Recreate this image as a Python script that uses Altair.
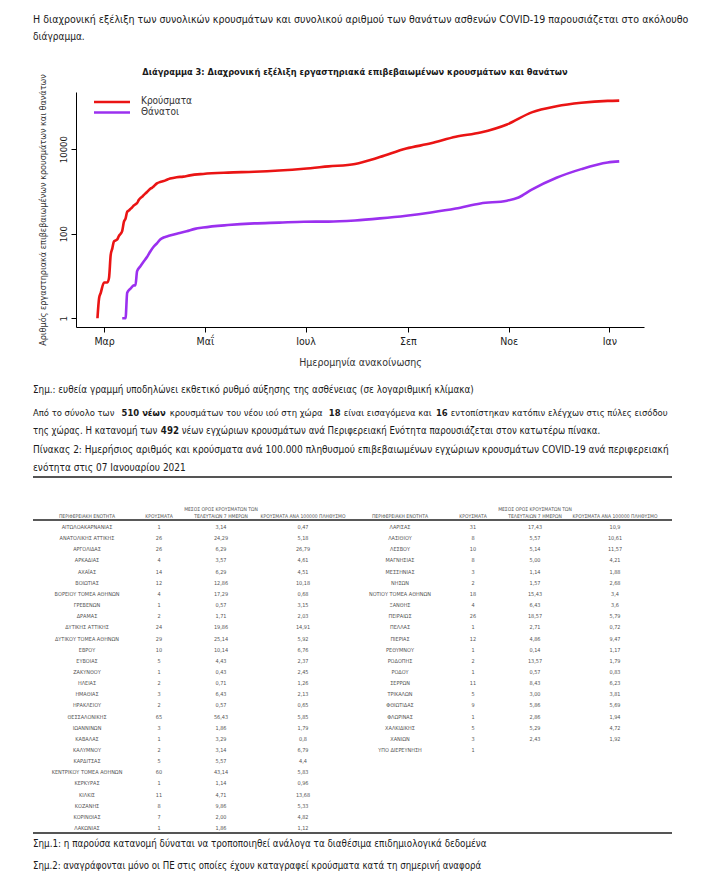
import altair as alt
import pandas as pd

FONT = "Liberation Sans Narrow, DejaVu Sans Condensed, Arial Narrow, sans-serif"
RED = "#ea1414"
PURPLE = "#9b30ef"
INK = "#1a1a1a"

# ---------------- chart data ----------------
case_dates = ["2020-02-26", "2020-02-27", "2020-02-28", "2020-03-01", "2020-03-03", "2020-03-04",
              "2020-03-05", "2020-03-06", "2020-03-07", "2020-03-09", "2020-03-10", "2020-03-11",
              "2020-03-12", "2020-03-13", "2020-03-14", "2020-03-15", "2020-03-16", "2020-03-17",
              "2020-03-18", "2020-03-19", "2020-03-20", "2020-03-21", "2020-03-22", "2020-03-23",
              "2020-03-24", "2020-03-25", "2020-03-26", "2020-03-27", "2020-03-28", "2020-03-29",
              "2020-03-30", "2020-03-31", "2020-04-02", "2020-04-04", "2020-04-06", "2020-04-08",
              "2020-04-10", "2020-04-14", "2020-04-18", "2020-04-22", "2020-04-30", "2020-05-15",
              "2020-05-31", "2020-06-15", "2020-06-30", "2020-07-15", "2020-07-31", "2020-08-15",
              "2020-08-31", "2020-09-15", "2020-09-30", "2020-10-15", "2020-10-31", "2020-11-15",
              "2020-11-30", "2020-12-15", "2020-12-31", "2021-01-07"]
case_values = [1, 3, 4, 7, 7, 9, 31, 45, 66, 73, 89, 99, 117, 190, 228, 331, 352, 387, 418, 464,
               495, 530, 624, 695, 743, 821, 892, 966, 1061, 1156, 1212, 1314, 1544, 1673, 1755,
               1884, 2011, 2170, 2235, 2401, 2591, 2788, 2917, 3121, 3432, 3910, 4477, 6481, 10317,
               13730, 19613, 24742, 38410, 74205, 103034, 124728, 138850, 141000]

death_dates = ["2020-03-12", "2020-03-14", "2020-03-15", "2020-03-17", "2020-03-19", "2020-03-20",
               "2020-03-21", "2020-03-23", "2020-03-25", "2020-03-27", "2020-03-29", "2020-03-31",
               "2020-04-02", "2020-04-04", "2020-04-06", "2020-04-08", "2020-04-11", "2020-04-15",
               "2020-04-20", "2020-04-25", "2020-04-30", "2020-05-15", "2020-05-31", "2020-06-15",
               "2020-06-30", "2020-07-15", "2020-07-31", "2020-08-15", "2020-08-31", "2020-09-15",
               "2020-09-30", "2020-10-15", "2020-10-31", "2020-11-07", "2020-11-15", "2020-11-30",
               "2020-12-15", "2020-12-31", "2021-01-07"]
death_values = [1, 1, 4, 5, 6, 6, 13, 17, 22, 28, 38, 49, 59, 73, 81, 86, 93, 102, 114, 130, 140,
                160, 175, 183, 192, 193, 206, 230, 266, 317, 393, 520, 603, 720, 1100, 2102, 3370,
                4838, 5146]

series_names = ["Κρούσματα", "Θάνατοι"]
month_labels = ["Ιαν", "Φεβ", "Μαρ", "Απρ", "Μαΐ", "Ιουν", "Ιουλ", "Αυγ", "Σεπ", "Οκτ", "Νοε", "Δεκ"]
y_ticks = [1, 100, 10000]

# ---------------- table data ----------------
left_names = ["ΑΙΤΩΛΟΑΚΑΡΝΑΝΙΑΣ", "ΑΝΑΤΟΛΙΚΗΣ ΑΤΤΙΚΗΣ", "ΑΡΓΟΛΙΔΑΣ", "ΑΡΚΑΔΙΑΣ", "ΑΧΑΪΑΣ", "ΒΟΙΩΤΙΑΣ",
              "ΒΟΡΕΙΟΥ ΤΟΜΕΑ ΑΘΗΝΩΝ", "ΓΡΕΒΕΝΩΝ", "ΔΡΑΜΑΣ", "ΔΥΤΙΚΗΣ ΑΤΤΙΚΗΣ", "ΔΥΤΙΚΟΥ ΤΟΜΕΑ ΑΘΗΝΩΝ",
              "ΕΒΡΟΥ", "ΕΥΒΟΙΑΣ", "ΖΑΚΥΝΘΟΥ", "ΗΛΕΙΑΣ", "ΗΜΑΘΙΑΣ", "ΗΡΑΚΛΕΙΟΥ", "ΘΕΣΣΑΛΟΝΙΚΗΣ",
              "ΙΩΑΝΝΙΝΩΝ", "ΚΑΒΑΛΑΣ", "ΚΑΛΥΜΝΟΥ", "ΚΑΡΔΙΤΣΑΣ", "ΚΕΝΤΡΙΚΟΥ ΤΟΜΕΑ ΑΘΗΝΩΝ", "ΚΕΡΚΥΡΑΣ",
              "ΚΙΛΚΙΣ", "ΚΟΖΑΝΗΣ", "ΚΟΡΙΝΘΙΑΣ", "ΛΑΚΩΝΙΑΣ"]
left_cases = ["1", "26", "26", "4", "14", "12", "4", "1", "2", "24", "29", "10", "5", "1", "2", "3", "2",
              "65", "3", "1", "2", "5", "60", "1", "11", "8", "7", "1"]
left_avg7 = ["3,14", "24,29", "6,29", "3,57", "6,29", "12,86", "17,29", "0,57", "1,71", "19,86", "25,14",
             "10,14", "4,43", "0,43", "0,71", "6,43", "0,57", "56,43", "1,86", "3,29", "3,14", "5,57",
             "43,14", "1,14", "4,71", "9,86", "2,00", "1,86"]
left_per100k = ["0,47", "5,18", "26,79", "4,61", "4,51", "10,18", "0,68", "3,15", "2,03", "14,91", "5,92",
                "6,76", "2,37", "2,45", "1,26", "2,13", "0,65", "5,85", "1,79", "0,8", "6,79", "4,4",
                "5,83", "0,96", "13,68", "5,33", "4,82", "1,12"]

right_names = ["ΛΑΡΙΣΑΣ", "ΛΑΣΙΘΙΟΥ", "ΛΕΣΒΟΥ", "ΜΑΓΝΗΣΙΑΣ", "ΜΕΣΣΗΝΙΑΣ", "ΝΗΣΩΝ", "ΝΟΤΙΟΥ ΤΟΜΕΑ ΑΘΗΝΩΝ",
               "ΞΑΝΘΗΣ", "ΠΕΙΡΑΙΩΣ", "ΠΕΛΛΑΣ", "ΠΙΕΡΙΑΣ", "ΡΕΘΥΜΝΟΥ", "ΡΟΔΟΠΗΣ", "ΡΟΔΟΥ", "ΣΕΡΡΩΝ",
               "ΤΡΙΚΑΛΩΝ", "ΦΘΙΩΤΙΔΑΣ", "ΦΛΩΡΙΝΑΣ", "ΧΑΛΚΙΔΙΚΗΣ", "ΧΑΝΙΩΝ", "ΥΠΟ ΔΙΕΡΕΥΝΗΣΗ"]
right_cases = ["31", "8", "10", "8", "3", "2", "18", "4", "26", "1", "12", "1", "2", "1", "11", "5", "9",
               "1", "5", "3", "1"]
right_avg7 = ["17,43", "5,57", "5,14", "5,00", "1,14", "1,57", "15,43", "6,43", "18,57", "2,71", "4,86",
              "0,14", "13,57", "0,57", "8,43", "3,00", "5,86", "2,86", "5,29", "2,43", ""]
right_per100k = ["10,9", "10,61", "11,57", "4,21", "1,88", "2,68", "3,4", "3,6", "5,79", "0,72", "9,47",
                 "1,17", "1,79", "0,83", "6,23", "3,81", "5,69", "1,94", "4,72", "1,92", ""]

header_region = "ΠΕΡΙΦΕΡΕΙΑΚΗ ΕΝΟΤΗΤΑ"
header_cases = "ΚΡΟΥΣΜΑΤΑ"
header_avg = ["ΜΕΣΟΣ ΟΡΟΣ ΚΡΟΥΣΜΑΤΩΝ ΤΩΝ", "ΤΕΛΕΥΤΑΙΩΝ 7 ΗΜΕΡΩΝ"]
header_rate = "ΚΡΟΥΣΜΑΤΑ ΑΝΑ 100000 ΠΛΗΘΥΣΜΟ"

# ---------------- layout (page pixels; plot area origin sits at page (76, 92)) ----------------
OX, OY = 76, 92
PW, PH = 568, 235


def X(p):
    return p - OX


def Y(p):
    return p - OY


def txt(s, x, y, size=9.8, weight="normal", align="left", color=INK):
    return alt.Chart(pd.DataFrame({"t": [s]})).mark_text(
        align=align, baseline="middle", font=FONT, fontSize=size, fontWeight=weight, color=color
    ).encode(text="t:N", x=alt.value(X(x)), y=alt.value(Y(y)))


def rich_line(parts, x0, y, size, end=None):
    """A line with bold runs; each run is its own text mark. parts: (text, bold, width in em)."""
    widths = [em * size for _, _, em in parts]
    gaps = len(parts) - 1
    gap = 0.32 * size
    if end is not None and gaps:
        gap = max(2.8, (end - x0 - sum(widths)) / gaps)
    out, x = [], x0
    for (t, b, _), w in zip(parts, widths):
        out.append(txt(t, x, y, size=size, weight="bold" if b else "normal"))
        x += w + gap
    return out


def hrule(x1, x2, y, width=1.0, color="#555555"):
    return alt.Chart(pd.DataFrame({"a": [0]})).mark_rule(color=color, strokeWidth=width).encode(
        x=alt.value(X(x1)), x2=alt.value(X(x2)), y=alt.value(Y(y)))


# ---------------- the line chart ----------------
df = pd.concat([
    pd.DataFrame({"date": case_dates, "value": case_values, "series": series_names[0]}),
    pd.DataFrame({"date": death_dates, "value": death_values, "series": series_names[1]}),
])

label_expr = "[" + ",".join("'" + m + "'" for m in month_labels) + "][month(datum.value)]"
tick_dates = [alt.DateTime(year=2020, month=m, date=1) for m in (3, 5, 7, 9, 11)] + \
             [alt.DateTime(year=2021, month=1, date=1)]
color_scale = alt.Scale(domain=series_names, range=[RED, PURPLE])

line = alt.Chart(df).mark_line(strokeWidth=2.6, interpolate="monotone").encode(
    x=alt.X("date:T",
            scale=alt.Scale(domain=[alt.DateTime(year=2020, month=2, date=13),
                                    alt.DateTime(year=2021, month=1, date=22)]),
            axis=alt.Axis(values=tick_dates, labelExpr=label_expr, title="Ημερομηνία ανακοίνωσης",
                          grid=False, tickSize=5, tickColor="black", domainColor="black",
                          labelFont=FONT, labelFontSize=10.5, labelColor=INK, labelPadding=4,
                          titleFont=FONT, titleFontSize=10.5, titleFontWeight="normal", titleColor="#333",
                          titleX=PW / 2, titleY=35, titleAlign="center", titleBaseline="middle")),
    y=alt.Y("value:Q",
            scale=alt.Scale(type="log", domain=[0.62, 225000]),
            axis=alt.Axis(values=y_ticks, format="d", grid=False, tickSize=5, tickColor="black",
                          domainColor="black", labelAngle=-90, labelAlign="center", labelBaseline="bottom",
                          labelFont=FONT, labelFontSize=9.5, labelColor=INK, labelPadding=3,
                          title="Αριθμός εργαστηριακά επιβεβαιωμένων κρουσμάτων και θανάτων",
                          titleFont=FONT, titleFontSize=9, titleFontWeight="normal", titleColor="#333",
                          titleX=-34, titleY=PH / 2, titleAngle=-90, titleAlign="center",
                          titleBaseline="middle")),
    color=alt.Color("series:N", scale=color_scale, legend=None),
)

# hand-drawn legend inside the plot (top-left), coloured through the same scale
legend_layers = []
for i, name in enumerate(series_names):
    d = pd.DataFrame({"series": [name]})
    legend_layers.append(alt.Chart(d).mark_rule(strokeWidth=2.6).encode(
        x=alt.value(X(94)), x2=alt.value(X(130)), y=alt.value(Y(102 + 10.5 * i)),
        color=alt.Color("series:N", scale=color_scale, legend=None)))
    legend_layers.append(alt.Chart(d).mark_text(align="left", baseline="middle", font=FONT, fontSize=10,
                                                color="#333").encode(
        text="series:N", x=alt.value(X(141)), y=alt.value(Y(101 + 10.5 * i))))

# ---------------- document text ----------------
doc = [
    txt("Η διαχρονική εξέλιξη των συνολικών κρουσμάτων και συνολικού αριθμού των θανάτων ασθενών COVID-19 παρουσιάζεται στο ακόλουθο", 33, 20, size=10.55),
    txt("διάγραμμα.", 33, 37, size=10),
    txt("Διάγραμμα 3: Διαχρονική εξέλιξη εργαστηριακά επιβεβαιωμένων κρουσμάτων και θανάτων", 355, 72,
        size=9.2, weight="bold", align="center"),
    txt("Σημ.: ευθεία γραμμή υποδηλώνει εκθετικό ρυθμό αύξησης της ασθένειας (σε λογαριθμική κλίμακα)", 33, 390),
]
doc += rich_line([("Από το σύνολο των", False, 9.1), ("510 νέων", True, 4.8),
                  ("κρουσμάτων του νέου ιού στη χώρα", False, 16.6), ("18", True, 1.25),
                  ("είναι εισαγόμενα και", False, 9.5), ("16", True, 1.25),
                  ("εντοπίστηκαν κατόπιν ελέγχων στις πύλες εισόδου", False, 23.0)], 33, 413, 9.4, end=667)
doc += rich_line([("της χώρας. Η κατανομή των", False, 13.0), ("492", True, 1.85),
                  ("νέων εγχώριων κρουσμάτων ανά Περιφερειακή Ενότητα παρουσιάζεται στον κατωτέρω πίνακα.", False, 44.0)],
                 33, 431, 9.6)
doc += [
    txt("Πίνακας 2: Ημερήσιος αριθμός και κρούσματα ανά 100.000 πληθυσμού επιβεβαιωμένων εγχώριων κρουσμάτων COVID-19 ανά περιφερειακή", 33, 450, size=10.0),
    txt("ενότητα στις 07 Ιανουαρίου 2021", 33, 468, size=10),
    hrule(33, 672, 477, width=2, color="#555555"),
    hrule(33, 672, 520, width=1.3, color="#222222"),
    hrule(33, 672, 833, width=2, color="#555555"),
    txt("Σημ.1: η παρούσα κατανομή δύναται να τροποποιηθεί ανάλογα τα διαθέσιμα επιδημιολογικά δεδομένα", 33, 844, size=9.75),
    txt("Σημ.2: αναγράφονται μόνο οι ΠΕ στις οποίες έχουν καταγραφεί κρούσματα κατά τη σημερινή αναφορά", 33, 866, size=9.6),
]

# ---------------- table ----------------
ROW0, ROWSTEP = 527, 11.15
row_scale = alt.Scale(domain=[0, 27], range=[Y(ROW0), Y(ROW0 + 27 * ROWSTEP)])
HC = "#555555"


def column(values, x, color="#555555", size=5.5):
    d = pd.DataFrame({"t": values, "row": list(range(len(values)))})
    return alt.Chart(d).mark_text(align="center", baseline="middle", font=FONT, fontSize=size,
                                  color=color).encode(
        text="t:N", x=alt.value(X(x)), y=alt.Y("row:Q", scale=row_scale, axis=None))


table = []
for (xr, xc, xa, xp) in [(87, 159, 221, 303), (400, 473, 535, 615)]:
    table += [
        txt(header_region, xr, 516, size=5, align="center", color=HC),
        txt(header_cases, xc, 516, size=5, align="center", color=HC),
        txt(header_avg[0], xa, 509, size=5, align="center", color=HC),
        txt(header_avg[1], xa, 516, size=5, align="center", color=HC),
        txt(header_rate, xp, 516, size=5, align="center", color=HC),
    ]
table += [
    column(left_names, 87), column(left_cases, 159), column(left_avg7, 221), column(left_per100k, 303),
    column(right_names, 400), column(right_cases, 473), column(right_avg7, 535), column(right_per100k, 615),
]

chart = alt.layer(line, *legend_layers, *doc, *table).resolve_scale(y="independent").properties(
    width=PW, height=PH,
    autosize=alt.AutoSizeParams(type="none"),
    padding={"left": OX - 8, "top": OY - 8, "right": 697 - (OX - 8) - PW, "bottom": 874 - (OY - 8) - PH},
).configure_view(stroke=None).configure_axis(grid=False)

chart.save("out.html", embed_options={"renderer": "svg", "actions": False})
